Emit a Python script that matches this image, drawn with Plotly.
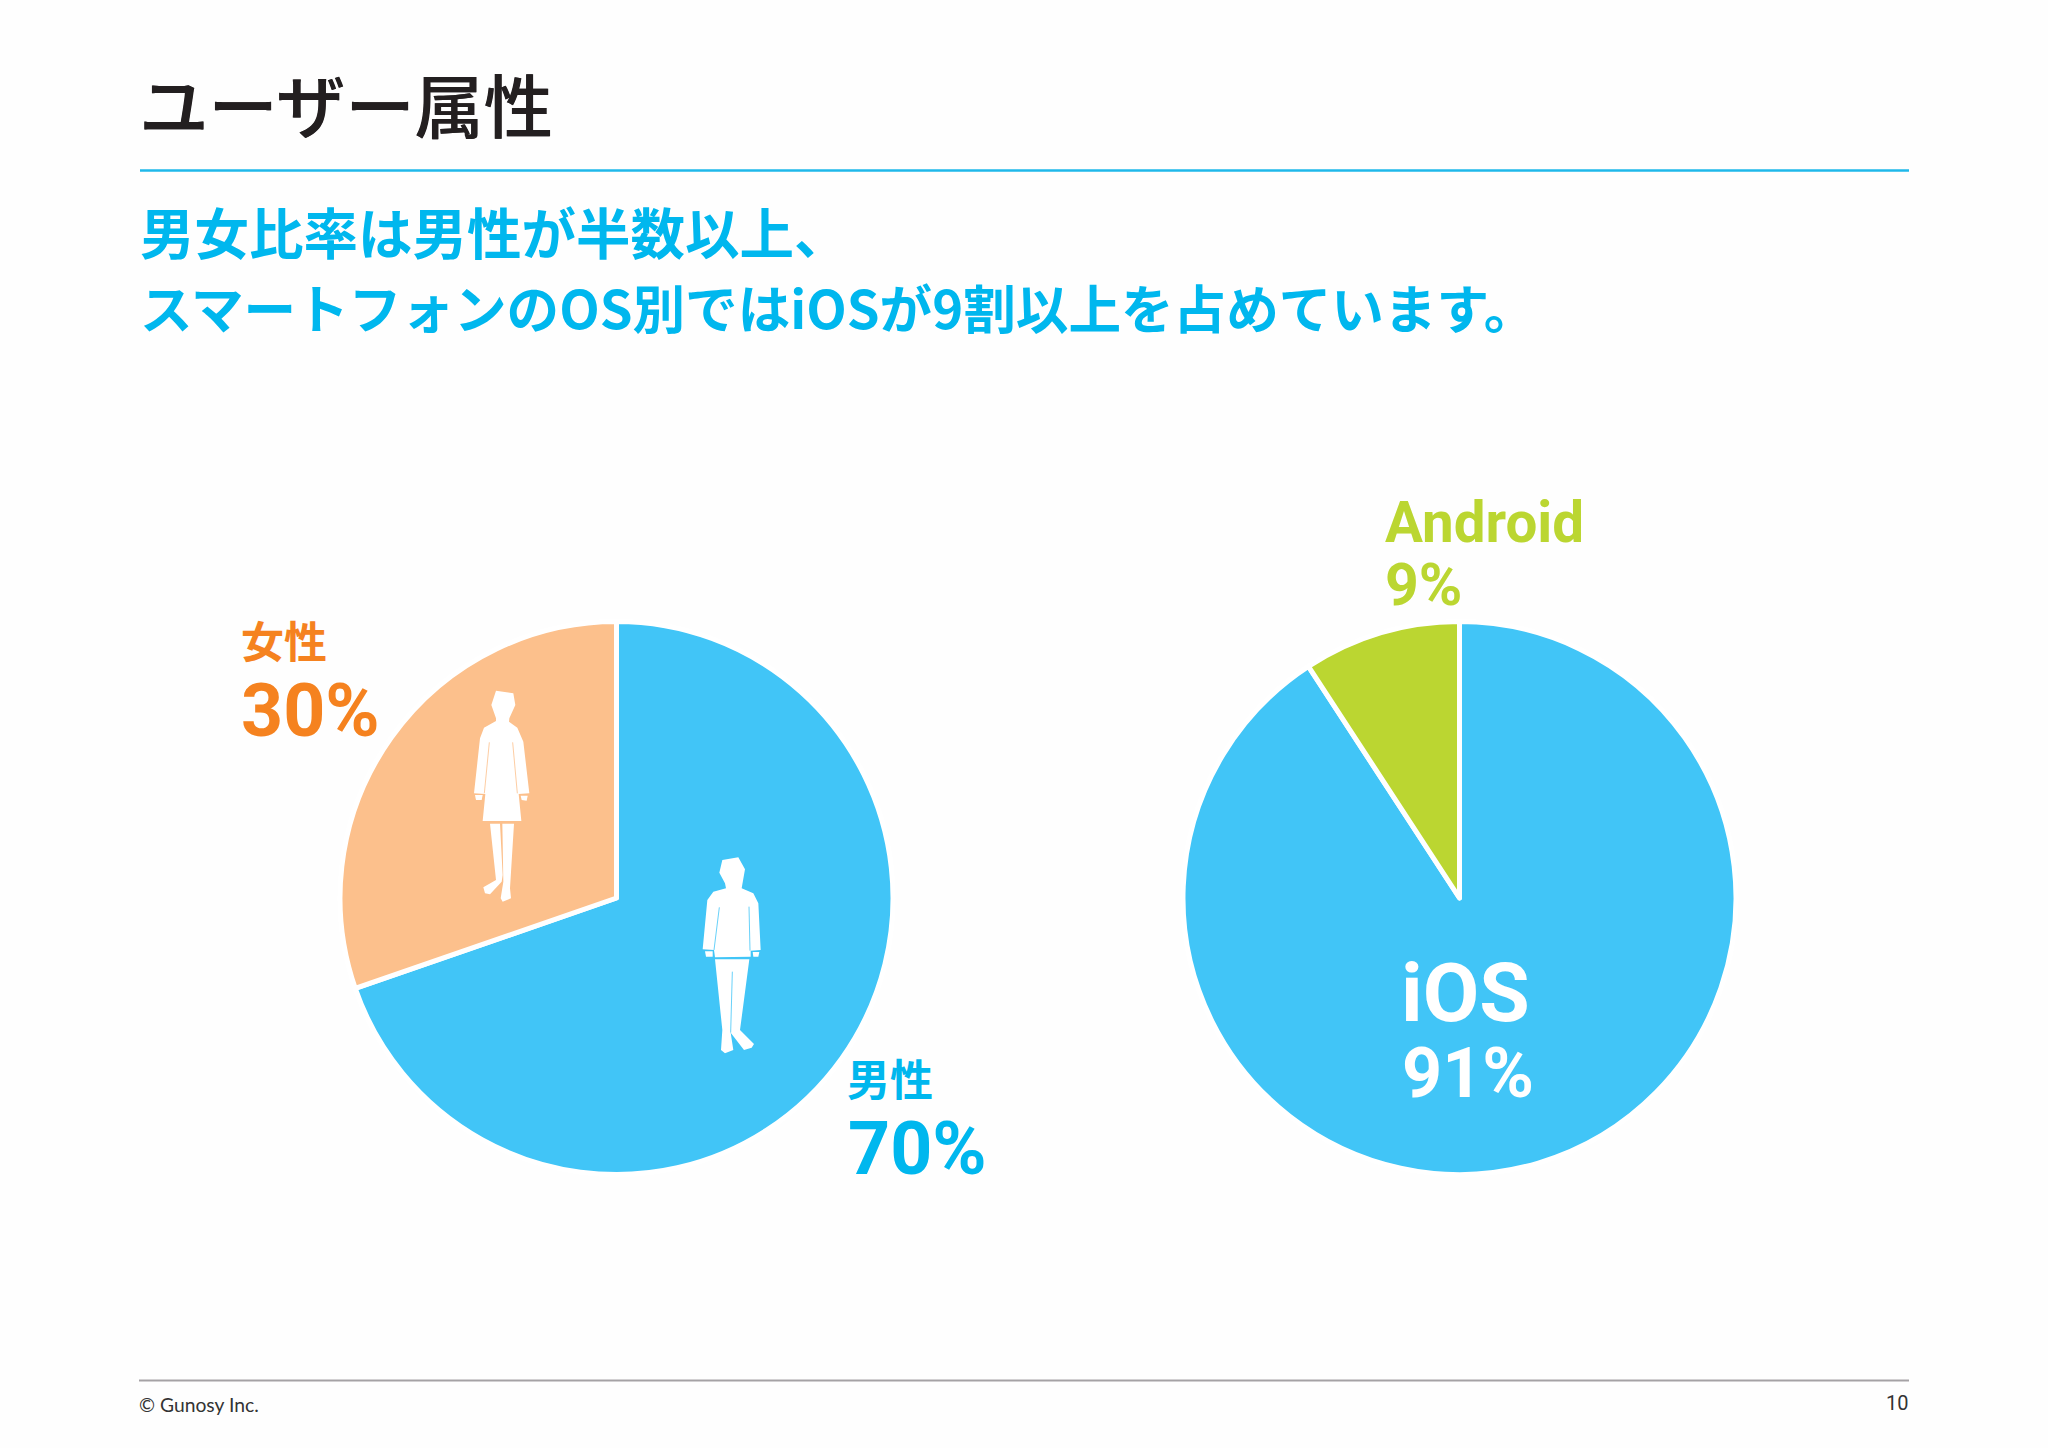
import plotly.graph_objects as go

W, H = 2048, 1448

# --- chart data ---
gender_labels = ["男性", "女性"]
gender_values = [69.7, 30.3]      # slice sizes as drawn in the picture
gender_printed = [70, 30]         # percentages as printed
gender_colors = ["#41c5f7", "#fcc08c"]
os_labels = ["iOS", "Android"]
os_values = [90.8, 9.2]           # slice sizes as drawn in the picture
os_printed = [91, 9]              # percentages as printed
os_colors = ["#41c5f7", "#bbd631"]

title_text = "ユーザー属性"
subtitle_lines = ["男女比率は男性が半数以上、", "スマートフォンのOS別ではiOSが9割以上を占めています。"]
footer_text = "© Gunosy Inc."
page_number = "10"

BLUE_TEXT = "#00b7ee"
ORANGE_TEXT = "#f5821f"
GREEN_TEXT = "#bbd631"
CJK = "Noto Sans CJK JP"
LATIN = "Roboto"


def px(x):
    return x / W


def py(y):
    return 1 - y / H


def pie_domain(cx, cy, r):
    return dict(x=[px(cx - r), px(cx + r)], y=[py(cy + r), py(cy - r)])


fig = go.Figure()
fig.add_trace(go.Pie(labels=gender_labels, values=gender_values, sort=False, direction="clockwise",
                     rotation=0, textinfo="none", hoverinfo="label+percent",
                     marker=dict(colors=gender_colors, line=dict(color="#ffffff", width=5)),
                     domain=pie_domain(616.5, 898, 276.5), showlegend=False))
fig.add_trace(go.Pie(labels=os_labels, values=os_values, sort=False, direction="clockwise",
                     rotation=0, textinfo="none", hoverinfo="label+percent",
                     marker=dict(colors=os_colors, line=dict(color="#ffffff", width=5)),
                     domain=pie_domain(1459.5, 898, 276.5), showlegend=False))


def note(x, y, text, size, color, family, anchor="left", weight="bold", shadow=None):
    font = dict(size=size, color=color, family=family, weight=weight)
    if shadow:
        font["shadow"] = shadow
    fig.add_annotation(x=px(x), y=py(y), xref="paper", yref="paper", text=text, showarrow=False,
                       xanchor=anchor, yanchor="middle", align=anchor, borderpad=0, font=font)


note(138, 103, title_text, 69.2, "#231f20", CJK, weight=500, shadow="0.5px 0 0 #231f20")
note(139, 230, subtitle_lines[0], 54.5, BLUE_TEXT, CJK)
note(139, 306, subtitle_lines[1], 52.6, BLUE_TEXT, CJK)

note(240, 639, gender_labels[1], 43, ORANGE_TEXT, CJK)
note(240, 711, f"{gender_printed[1]}%", 73.5, ORANGE_TEXT, LATIN)
note(846, 1077, gender_labels[0], 43, BLUE_TEXT, CJK)
note(847, 1149, f"{gender_printed[0]}%", 73.5, BLUE_TEXT, LATIN)
note(1384, 523, os_labels[1], 56.5, GREEN_TEXT, LATIN)
note(1384, 584, f"{os_printed[1]}%", 59, GREEN_TEXT, LATIN)
note(1465, 993, os_labels[0], 82, "#ffffff", LATIN, anchor="center")
note(1468, 1073, f"{os_printed[0]}%", 70, "#ffffff", LATIN, anchor="center")

note(138, 1404, footer_text, 19.3, "#333333", "Lato", weight="normal")
note(1909, 1403, page_number, 20, "#333333", LATIN, anchor="right", weight="normal")

shapes = [
    dict(type="line", xref="paper", yref="paper", x0=px(140), x1=px(1909), y0=py(170.5), y1=py(170.5),
         line=dict(color="#1fb8ea", width=2.5)),
    dict(type="line", xref="paper", yref="paper", x0=px(139), x1=px(1909), y0=py(1380.5), y1=py(1380.5),
         line=dict(color="#a5a2a5", width=2)),
]


def icon_path(points, ox, oy):
    coords = [(px(ox + a / 3), py(oy + b / 3)) for a, b in points]
    return "M" + " L".join(f"{a:.5f},{b:.5f}" for a, b in coords) + " Z"


def add_icon(polys, slits, ox, oy, slit_color):
    for p in polys:
        shapes.append(dict(type="path", xref="paper", yref="paper", path=icon_path(p, ox, oy),
                           fillcolor="#ffffff", line=dict(width=0)))
    for (a, b), (c, d) in slits:
        shapes.append(dict(type="line", xref="paper", yref="paper",
                           x0=px(ox + a / 3), y0=py(oy + b / 3), x1=px(ox + c / 3), y1=py(oy + d / 3),
                           line=dict(color=slit_color, width=0.8)))


# decorative silhouettes (picture outlines, not data)
female_polys = [
    [(108, 17), (160, 25), (166, 60), (148, 100), (147, 110), (172, 128), (190, 170), (208, 325),
     (176, 327), (184, 408), (68, 408), (76, 327), (42, 325), (60, 160), (72, 128), (108, 108), (108, 100), (94, 60)],
    [(45, 330), (68, 330), (65, 345), (48, 345)],
    [(182, 332), (203, 332), (200, 347), (185, 345)],
    [(90, 416), (120, 416), (128, 570), (125, 590), (90, 628), (75, 625), (70, 607), (108, 585)],
    [(127, 416), (162, 416), (150, 610), (153, 640), (128, 650), (122, 640), (130, 590)],
]
female_slits = [((88, 172), (73, 325)), ((158, 172), (172, 325))]
male_polys = [
    [(97, 30), (145, 22), (165, 58), (155, 115), (190, 130), (205, 160), (212, 300), (182, 302), (182, 320),
     (75, 322), (72, 300), (38, 298), (52, 150), (70, 125), (108, 115), (105, 100), (88, 68)],
    [(45, 304), (68, 304), (68, 320), (48, 320)],
    [(188, 306), (208, 306), (205, 320), (190, 320)],
    [(75, 328), (178, 328), (150, 540), (192, 582), (185, 593), (162, 600), (122, 548), (130, 600),
     (105, 610), (93, 600), (97, 540)],
]
male_slits = [((88, 172), (72, 300)), ((177, 170), (180, 302)), ((127, 365), (122, 548))]
add_icon(female_polys, female_slits, 460, 685, "#fcc08c")
add_icon(male_polys, male_slits, 690, 850, "#41c5f7")

fig.update_layout(width=W, height=H, margin=dict(l=0, r=0, t=0, b=0),
                  paper_bgcolor="#fefefe", plot_bgcolor="#fefefe", shapes=shapes)
fig.write_html("out.html", config=dict(displayModeBar=False),
               post_script="document.body.style.margin='0';document.body.style.overflow='hidden';")
